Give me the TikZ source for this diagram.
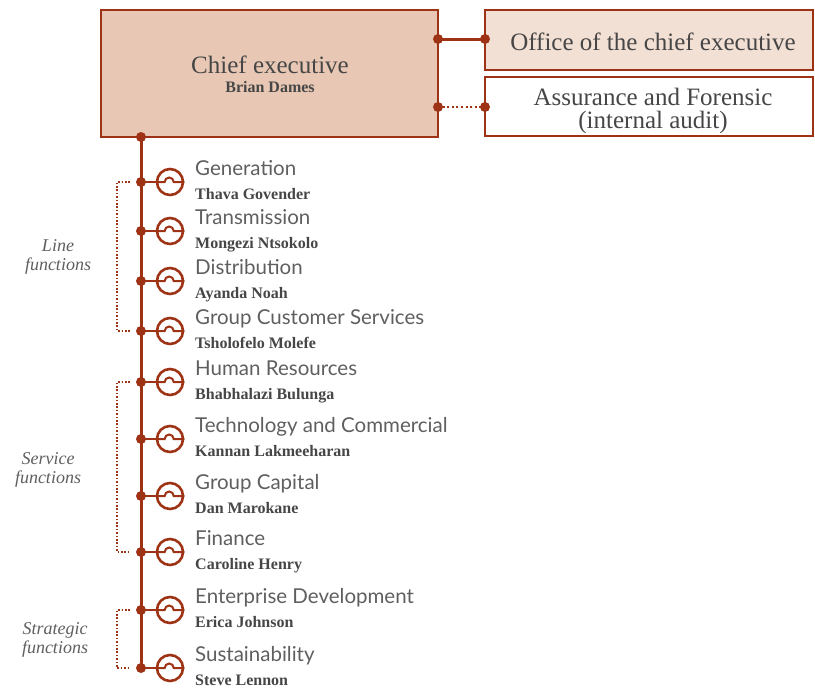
\documentclass[tikz,border=0pt]{standalone}
\usepackage{fontspec}
\setmainfont{Liberation Serif}
\newfontfamily\titlefont{Lato}
\definecolor{rust}{RGB}{158,50,20}
\definecolor{ceofill}{RGB}{232,200,180}
\definecolor{offfill}{RGB}{243,224,213}
\definecolor{txt}{RGB}{70,70,70}
\definecolor{lighttxt}{RGB}{95,95,95}
\tikzset{
  box/.style={draw=rust, line width=2.8pt, inner sep=0pt},
  conn/.style={draw=rust, line width=3pt},
  dotconn/.style={draw=rust, line width=2.4pt, dash pattern=on 2pt off 2.6pt},
  bracket/.style={draw=rust, line width=1.7pt, dash pattern=on 1.6pt off 1.8pt},
  jdot/.style={fill=rust},
  bigtext/.style={text=txt, font=\fontsize{25}{28}\selectfont, inner sep=0pt, anchor=base},
  smallbold/.style={text=txt, font=\fontsize{16}{18}\selectfont\bfseries, inner sep=0pt, anchor=base},
  unittitle/.style={text=lighttxt, font=\titlefont\fontsize{20.5}{23}\selectfont, inner sep=0pt, anchor=base west},
  unitname/.style={text=txt, font=\fontsize{16}{18}\selectfont\bfseries, inner sep=0pt, anchor=base west},
  grouplabel/.style={text=lighttxt, font=\fontsize{18}{19}\selectfont\itshape, align=center, inner sep=0pt},
}
\begin{document}
\begin{tikzpicture}[x=1pt,y=-1pt]
\useasboundingbox (0,0) rectangle (815,689);

% boxes
\node[box, fill=ceofill, minimum width=337pt, minimum height=127pt] (ceo) at (269.5,73.5) {};
\node[box, fill=offfill, minimum width=328pt, minimum height=60pt] (office) at (649,40) {};
\node[box, fill=white, minimum width=328pt, minimum height=59pt] (assur) at (649,106.5) {};

\node[bigtext] (ceot) at (270,73) {Chief executive};
\node[smallbold] (ceon) at (270,92) {Brian Dames};
\node[bigtext] (offt) at (653,50) {Office of the chief executive};
\node[bigtext] (ast1) at (653,105) {Assurance and Forensic};
\node[bigtext] (ast2) at (653,128) {(internal audit)};

% joints
\coordinate (c1) at (438,39);
\coordinate (o1) at (485,39);
\coordinate (c2) at (438,107);
\coordinate (a1) at (485,107);
\coordinate (cb) at (141,137);
\draw[conn] (c1) -- (o1);
\draw[dotconn] (c2) -- (a1);
\foreach \p in {c1,o1,c2,a1,cb} \fill[jdot] (\p) circle (5);

% units
\foreach \i/\yy/\t/\n in {
  1/182/Generation/Thava Govender,
  2/231/Transmission/Mongezi Ntsokolo,
  3/281/Distribution/Ayanda Noah,
  4/331/Group Customer Services/Tsholofelo Molefe,
  5/382/Human Resources/Bhabhalazi Bulunga,
  6/439/Technology and Commercial/Kannan Lakmeeharan,
  7/496/Group Capital/Dan Marokane,
  8/552/Finance/Caroline Henry,
  9/610/Enterprise Development/Erica Johnson,
  10/668/Sustainability/Steve Lennon}{
  \coordinate (d\i) at (141,\yy);
  \node[circle, draw=rust, line width=2.6pt, minimum size=26pt, inner sep=0pt] (u\i) at (170,\yy) {};
  \draw[rust, line width=2.6pt] (d\i) -- (u\i.west);
  \draw[rust, line width=2pt] (u\i.west) -- ++(9,0) arc[start angle=180, end angle=360, radius=4.5] -- (u\i.east);
  \node[unittitle] (ut\i) at (195,\yy-6.5) {\t};
  \node[unitname] (un\i) at (195,\yy+17.5) {\n};
}
\draw[conn] (cb) -- (d10);
\foreach \i in {1,...,10} \fill[jdot] (d\i) circle (5);

% brackets
\draw[bracket] ([xshift=-11pt]d1) -- ([xshift=-24pt]d1) -- ([xshift=-24pt]d4) -- ([xshift=-11pt]d4);
\draw[bracket] ([xshift=-11pt]d5) -- ([xshift=-24pt]d5) -- ([xshift=-24pt]d8) -- ([xshift=-11pt]d8);
\draw[bracket] ([xshift=-11pt]d9) -- ([xshift=-24pt]d9) -- ([xshift=-24pt]d10) -- ([xshift=-11pt]d10);

\node[grouplabel] (gl1) at (58,257) {Line\\functions};
\node[grouplabel] (gl2) at (48,470) {Service\\functions};
\node[grouplabel] (gl3) at (55,640) {Strategic\\functions};
\end{tikzpicture}
\end{document}
